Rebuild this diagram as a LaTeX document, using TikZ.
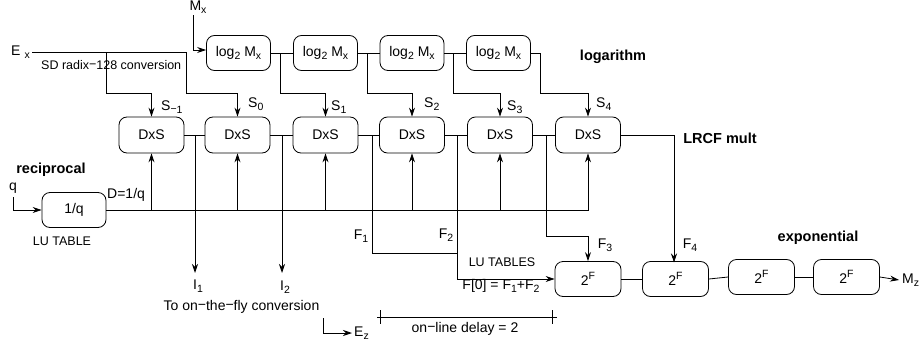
\documentclass[tikz,border=0pt]{standalone}
\usepackage{fontspec}
\setmainfont{Liberation Sans}
\usetikzlibrary{arrows.meta}
\newcommand{\lo}[1]{\raisebox{-0.45ex}{\fontsize{10.5}{11}\selectfont #1}}
\newcommand{\hi}[1]{\raisebox{0.75ex}{\fontsize{10.5}{11}\selectfont #1}}
\newcommand{\mn}{\raisebox{0.1ex}{−}}
\tikzset{
  box/.style={draw, line width=0.8pt, rounded corners=8pt, minimum width=64pt, minimum height=35pt, inner sep=0pt, font=\fontsize{14}{16}\selectfont},
  wire/.style={line width=0.8pt},
  arr/.style={wire, -{Stealth[length=9pt,width=6pt,inset=3pt]}},
  lbl/.style={font=\fontsize{14}{16}\selectfont, inner sep=0pt},
  small/.style={font=\fontsize{12.5}{14}\selectfont, inner sep=0pt},
  ttl/.style={font=\bfseries\fontsize{14.5}{16}\selectfont, inner sep=0pt}
}
\begin{document}
\begin{tikzpicture}[x=1pt,y=-1pt]
\useasboundingbox (0,0) rectangle (921,348);
% log boxes
\node[box] (L1) at (238.5,53) {log\lo{2} M\lo{x}};
\node[box] (L2) at (325.5,53) {log\lo{2} M\lo{x}};
\node[box] (L3) at (412,53) {log\lo{2} M\lo{x}};
\node[box] (L4) at (498.5,53) {log\lo{2} M\lo{x}};
% DxS boxes
\node[box, minimum width=65pt, minimum height=36pt] (D1) at (151.5,135) {DxS};
\node[box, minimum width=65pt, minimum height=36pt] (D2) at (237.5,135) {DxS};
\node[box, minimum width=65pt, minimum height=36pt] (D3) at (325.5,135) {DxS};
\node[box, minimum width=65pt, minimum height=36pt] (D4) at (412,135) {DxS};
\node[box, minimum width=65pt, minimum height=36pt] (D5) at (500,135) {DxS};
\node[box, minimum width=65pt, minimum height=36pt] (D6) at (588,135) {DxS};
% reciprocal
\node[box] (R) at (74,210) {1/q};
% exponential
\node[box, minimum width=66pt] (E1) at (588,279) {2\hi{F}};
\node[box, minimum width=66pt] (E2) at (675.5,279) {2\hi{F}};
\node[box, minimum width=66pt] (E3) at (761.5,277) {2\hi{F}};
\node[box, minimum width=66pt] (E4) at (846.5,277) {2\hi{F}};

% log chain
\draw[wire] (L1.east) -- (L2.west);
\draw[wire] (L2.east) -- (L3.west);
\draw[wire] (L3.east) -- (L4.west);
\coordinate (b1) at (280,53);
\coordinate (b2) at (367,53);
\coordinate (b3) at (453,53);
\coordinate (b4) at (540,53);
\draw[arr] (b1) -- (280,93) -| (D3.north);
\draw[arr] (b2) -- (367,93) -| (D4.north);
\draw[arr] (b3) -- (453,93) -| (D5.north);
\draw[arr] (L4.east) -- (b4) -- (540,93) -| (D6.north);

% Ex
\node[lbl, anchor=west] (Ex) at (11,52) {E\kern4pt\lo{x}};
\coordinate (ex0) at (32,52);
\coordinate (exA) at (106,52);
\coordinate (exB) at (186,52);
\draw[wire] (ex0) -- (exB);
\draw[arr] (exB) -- (186,93) -| (D2.north);
\draw[arr] (exA) -- (106,93) -| (D1.north);
\node[small, anchor=west] (sd) at (41,65) {SD radix\mn128 conversion};

% Mx
\node[lbl] (Mx) at (198,7) {M\lo{x}};
\coordinate (mx0) at (193,15);
\draw[arr] (mx0) |- ([yshift=3pt]L1.west);

% S labels
\node[lbl, anchor=west] (s0) at (161,107) {S\lo{\mn1}};
\node[lbl, anchor=west] (s1) at (248,104) {S\lo{0}};
\node[lbl, anchor=west] (s2) at (331,107) {S\lo{1}};
\node[lbl, anchor=west] (s3) at (424,104) {S\lo{2}};
\node[lbl, anchor=west] (s4) at (507,107) {S\lo{3}};
\node[lbl, anchor=west] (s5) at (596,104) {S\lo{4}};

% DxS chain
\draw[wire] (D1.east) -- (D2.west);
\draw[wire] (D2.east) -- (D3.west);
\draw[wire] (D3.east) -- (D4.west);
\draw[wire] (D4.east) -- (D5.west);
\draw[wire] (D5.east) -- (D6.west);
\coordinate (j1) at (195,135);
\coordinate (j2) at (282,135);
\coordinate (j3) at (372,135);
\coordinate (j4) at (457,135);
\coordinate (j5) at (546,135);
\coordinate (i1) at (195,273);
\coordinate (i2) at (282,273);
\draw[arr] (j1) -- (i1);
\draw[arr] (j2) -- (i2);
\draw[wire] (j3) -- (372,253) -- (457,253);
\draw[arr] (j4) |- (E1.west);
\draw[arr] (j5) -- (546,236) -| (E1.north);
\draw[arr] (D6.east) -- (674,135) -- (674,262.5);

% reciprocal lines
\coordinate (q0) at (13,197);
\draw[arr] (q0) |- (R.west);
\draw[arr] (R.east) -| (D6.south);
\foreach \d in {D1,D2,D3,D4,D5}{
  \draw[arr] (\d.south |- R.east) -- (\d.south);
}
\node[lbl] (q) at (13,188) {q};
\node[ttl] (rec) at (51,170) {reciprocal};
\node[lbl, anchor=west] (dq) at (107,195) {D=1/q};
\node[small] (lut) at (62,241) {LU TABLE};

% I labels
\node[lbl] (I1) at (198,286) {I\lo{1}};
\node[lbl] (I2) at (285,287) {I\lo{2}};
\node[lbl] (otf) at (241.5,307) {To on\mn the\mn fly conversion};

% F labels
\node[lbl] (F1) at (361,236) {F\lo{1}};
\node[lbl] (F2) at (446,235) {F\lo{2}};
\node[lbl] (F3) at (605,245) {F\lo{3}};
\node[lbl] (F4) at (690,245) {F\lo{4}};
\node[small] (lts) at (502,262) {LU TABLES};
\node[lbl] (f0) at (501,286) {F[0] = F\lo{1}+F\lo{2}};

% exponential chain
\draw[wire] (E1.east) -- (E2.west);
\draw[wire] (E2.east) -- (E3.west);
\draw[wire] (E3.east) -- (E4.west);
\node[lbl, anchor=west] (Mz) at (902,280) {M\lo{z}};
\draw[arr] (E4.east) -- ([xshift=-3pt]Mz.west);

% titles
\node[ttl] (lg) at (613,57) {logarithm};
\node[ttl] (lr) at (720,138) {LRCF mult};
\node[ttl] (ex) at (818,238) {exponential};

% Ez
\node[lbl, anchor=west] (Ez) at (354,333) {E\lo{z}};
\coordinate (ez0) at (323,318);
\draw[arr] (ez0) |- ([xshift=-2pt]Ez.west);

% on-line delay
\coordinate (d0) at (377,317);
\coordinate (d1) at (557,317);
\draw[wire] (d0) -- (d1);
\draw[wire] (380,310) -- (380,324);
\draw[wire] (552,310) -- (552,324);
\node[lbl] (dl) at (465,329) {on\mn line delay = 2};
\end{tikzpicture}
\end{document}
